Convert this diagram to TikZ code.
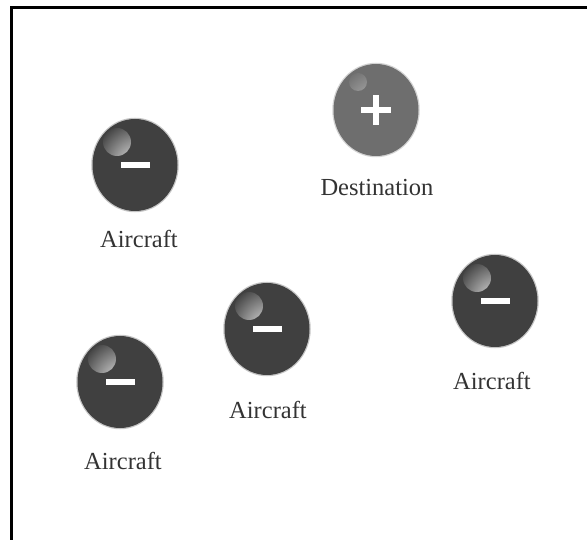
\documentclass[tikz,border=0pt]{standalone}
\usepackage{fontspec}
\setmainfont{Liberation Serif}
\usetikzlibrary{shapes.geometric}
\definecolor{balldark}{HTML}{404040}
\definecolor{destgray}{HTML}{6E6E6E}
\definecolor{hilite}{HTML}{E8E8E8}
\definecolor{hilitedest}{HTML}{C4C4C4}
\definecolor{labelgray}{HTML}{333333}
\tikzset{
  ballbase/.style={ellipse, minimum width=85pt, minimum height=92pt, inner sep=0pt,
    draw opacity=0.3, line width=2.5pt},
  aircraftball/.style={ballbase, fill=balldark, draw=balldark,
    path picture={
      \shade[inner color=hilite, outer color=balldark]
        ([xshift=-18pt,yshift=23pt]path picture bounding box.center) circle (14pt);
      \fill[white] ([xshift=-14.5pt,yshift=-3pt]path picture bounding box.center)
        rectangle ([xshift=14.5pt,yshift=3pt]path picture bounding box.center);
    }},
  destball/.style={ballbase, fill=destgray, draw=destgray,
    path picture={
      \shade[inner color=hilitedest, outer color=destgray]
        ([xshift=-18pt,yshift=28pt]path picture bounding box.center) circle (9pt);
      \fill[white] ([xshift=-15pt,yshift=-2.6pt]path picture bounding box.center)
        rectangle ([xshift=15pt,yshift=2.6pt]path picture bounding box.center);
      \fill[white] ([xshift=-2.6pt,yshift=-15pt]path picture bounding box.center)
        rectangle ([xshift=2.6pt,yshift=15pt]path picture bounding box.center);
    }},
  balllabel/.style={text=labelgray, font=\fontsize{24.5}{28}\selectfont, inner sep=0pt},
  frameline/.style={line width=3pt, black}
}
\begin{document}
\begin{tikzpicture}[x=1pt, y=-1pt]
  \useasboundingbox (0,0) rectangle (587,540);
  \coordinate (fb) at (11.5,540);
  \coordinate (fc) at (11.5,7.8);
  \coordinate (fr) at (587,7.8);
  \draw[frameline] (fb) -- (fc) -- (fr);

  \node[destball] (dest) at (376,110) {};
  \node[balllabel] (destlab) at (377,188) {Destination};

  \node[aircraftball] (a1) at (135,165) {};
  \node[balllabel] (a1lab) at (139,239) {Aircraft};

  \node[aircraftball] (a2) at (267,329) {};
  \node[balllabel] (a2lab) at (268,410) {Aircraft};

  \node[aircraftball] (a3) at (495,301) {};
  \node[balllabel] (a3lab) at (492,381) {Aircraft};

  \node[aircraftball] (a4) at (120,382) {};
  \node[balllabel] (a4lab) at (123,461) {Aircraft};
\end{tikzpicture}
\end{document}
